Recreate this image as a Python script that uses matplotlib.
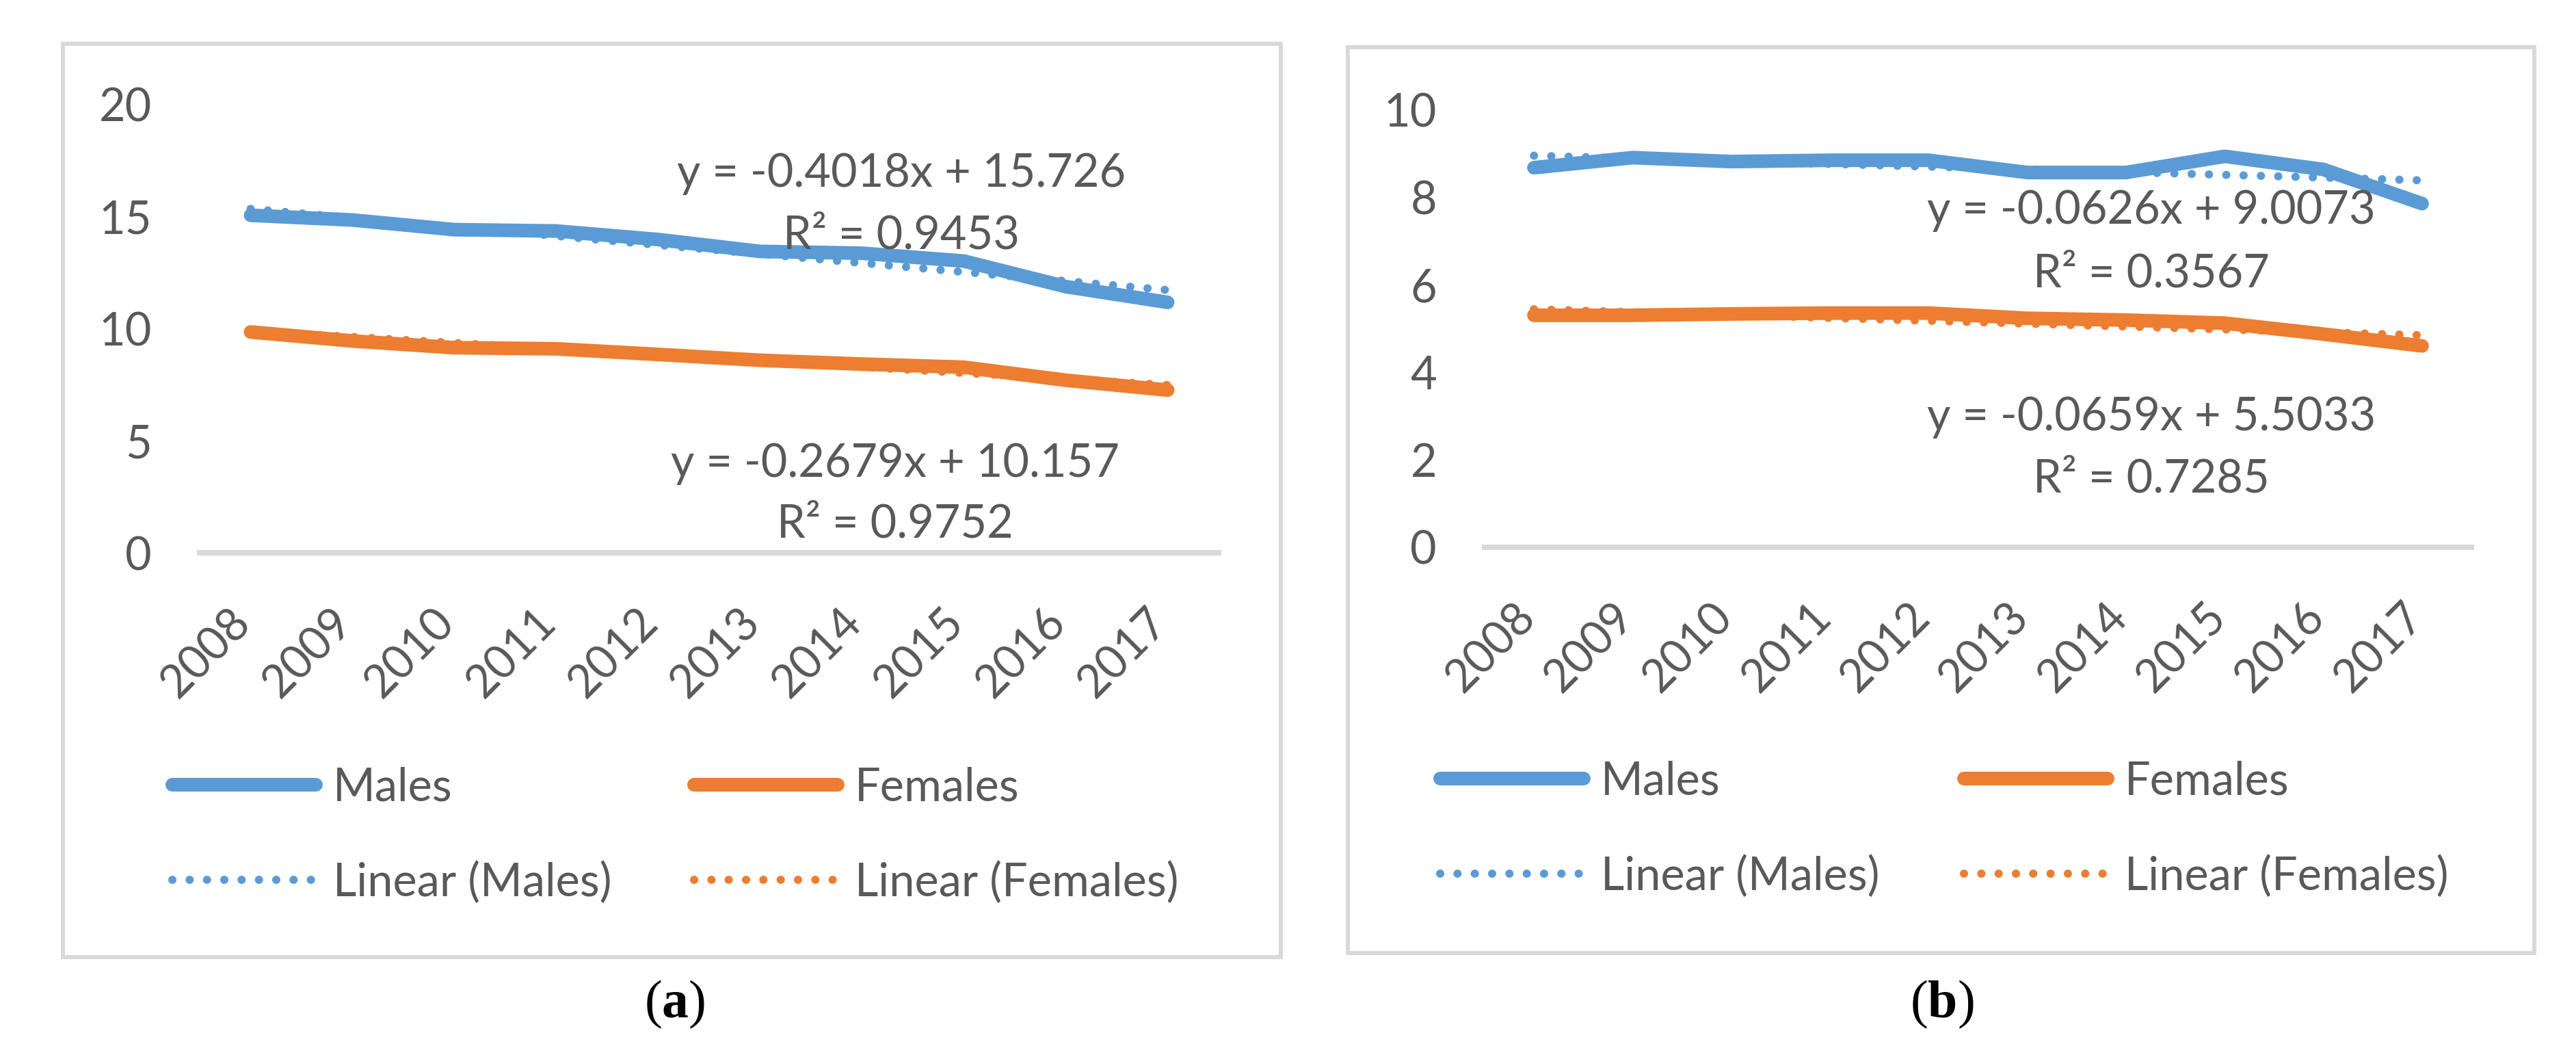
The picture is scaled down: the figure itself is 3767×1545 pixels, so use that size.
import numpy as np
import matplotlib
matplotlib.use("Agg")
import matplotlib.pyplot as plt
from matplotlib.patches import Rectangle
from matplotlib.transforms import ScaledTranslation

# ---------------- data ----------------
years = ['2008', '2009', '2010', '2011', '2012', '2013', '2014', '2015', '2016', '2017']

a_males = [15.04, 14.83, 14.40, 14.34, 13.96, 13.43, 13.35, 13.00, 11.86, 11.16]
a_females = [9.84, 9.44, 9.14, 9.09, 8.84, 8.58, 8.41, 8.27, 7.69, 7.25]
b_males = [8.67, 8.90, 8.81, 8.84, 8.84, 8.56, 8.56, 8.93, 8.63, 7.85]
b_females = [5.30, 5.30, 5.33, 5.35, 5.35, 5.23, 5.19, 5.12, 4.87, 4.60]

# trend line coefficients (slope, intercept) and R² as printed
a_males_fit = [-0.4018, 15.726]
a_females_fit = [-0.2679, 10.157]
b_males_fit = [-0.0626, 9.0073]
b_females_fit = [-0.0659, 5.5033]
a_r2 = ['0.9453', '0.9752']
b_r2 = ['0.3567', '0.7285']

a_yticks = [0, 5, 10, 15, 20]
b_yticks = [0, 2, 4, 6, 8, 10]

series_labels = ['Males', 'Females', 'Linear (Males)', 'Linear (Females)']
panel_labels = ['a', 'b']

# ---------------- style ----------------
W, H = 3767, 1545
DPI = 100
BLUE = '#5B9BD5'
ORANGE = '#ED7D31'
TXT = '#595959'
GRID = '#D9D9D9'
FONT = 'Lato'
FS = 48
PX = 72.0 / DPI  # points per pixel

plt.rcParams['font.family'] = [FONT, 'DejaVu Sans']
plt.rcParams['mathtext.fontset'] = 'custom'
plt.rcParams['mathtext.rm'] = 'Liberation Serif'
plt.rcParams['mathtext.bf'] = 'Liberation Serif:bold'

fig = plt.figure(figsize=(W / DPI, H / DPI), dpi=DPI)
fig.patch.set_facecolor('white')


def fx(px):
    return px / W


def fy(py):
    return 1 - py / H


def make_panel(ax_px, frame_px, males, females, mfit, ffit, r2, yticks,
               eq_pos, leg_pos, label_xoff):
    x0, x1, ytop, ybot = ax_px
    ax = fig.add_axes([fx(x0), fy(ybot), fx(x1) - fx(x0), fy(ytop) - fy(ybot)])
    x = np.arange(1, len(years) + 1)
    lm, = ax.plot(x, males, color=BLUE, lw=20 * PX, solid_capstyle='round',
                  solid_joinstyle='round', zorder=3)
    lf, = ax.plot(x, females, color=ORANGE, lw=20 * PX, solid_capstyle='round',
                  solid_joinstyle='round', zorder=3)
    dots = (0, (0.01, 2.1))
    tm, = ax.plot(x, mfit[0] * x + mfit[1], color=BLUE, lw=12 * PX,
                  linestyle=dots, dash_capstyle='round', zorder=2)
    tf, = ax.plot(x, ffit[0] * x + ffit[1], color=ORANGE, lw=12 * PX,
                  linestyle=dots, dash_capstyle='round', zorder=2)

    ax.set_xlim(0.5, len(years) + 0.5)
    ax.set_ylim(yticks[0], yticks[-1])
    ax.set_yticks(yticks)
    ax.set_yticklabels([str(t) for t in yticks])
    ax.set_xticks(x)
    ax.set_xticklabels(years, rotation=45, ha='right', va='top')
    for s in ['top', 'right', 'left']:
        ax.spines[s].set_visible(False)
    ax.spines['bottom'].set_color(GRID)
    ax.spines['bottom'].set_linewidth(8 * PX)
    ax.tick_params(axis='both', length=0, labelsize=FS, labelcolor=TXT)
    ax.tick_params(axis='y', pad=70 * PX)
    ax.tick_params(axis='x', pad=70 * PX)
    off = ScaledTranslation(label_xoff / DPI, 0, fig.dpi_scale_trans)
    for lab in ax.get_xticklabels():
        lab.set_transform(lab.get_transform() + off)
    ax.patch.set_alpha(0)

    # equations
    (mcx, mby, mrby), (fcx, fby, frby) = eq_pos
    eqm = 'y = %sx + %s' % (str(mfit[0]), str(mfit[1]))
    eqf = 'y = %sx + %s' % (str(ffit[0]), str(ffit[1]))
    for cx, by, s in [(mcx, mby, eqm), (mcx, mrby, 'R\u00b2 = ' + r2[0]),
                      (fcx, fby, eqf), (fcx, frby, 'R\u00b2 = ' + r2[1])]:
        fig.text(fx(cx), fy(by), s, ha='center', va='baseline', fontsize=FS,
                 color=TXT)

    # frame
    fl, ft, fr, fb = frame_px
    fig.add_artist(Rectangle((fx(fl), fy(fb)), fx(fr) - fx(fl), fy(ft) - fy(fb),
                             transform=fig.transFigure, fill=False,
                             edgecolor=GRID, linewidth=6 * PX, zorder=0))

    # legends (one per column)
    (c1x, c2x, ymid) = leg_pos
    for hx, handles, labs in [(c1x, [lm, tm], [series_labels[0], series_labels[2]]),
                              (c2x, [lf, tf], [series_labels[1], series_labels[3]])]:
        fig.legend(handles, labs, loc='center left',
                   bbox_to_anchor=(fx(hx), fy(ymid)), bbox_transform=fig.transFigure,
                   frameon=False, fontsize=FS, labelcolor=TXT, borderpad=0,
                   borderaxespad=0, handlelength=3.15, handletextpad=0.38,
                   labelspacing=1.15)
    return ax


make_panel((292, 1782, 152, 808), (92, 64, 1873, 1399),
           a_males, a_females, a_males_fit, a_females_fit, a_r2, a_yticks,
           ((1318, 273, 363), (1309, 697, 786)),
           (252, 1015, 1221), 12)

make_panel((2171, 3614, 160, 800), (1971, 69, 3706, 1393),
           b_males, b_females, b_males_fit, b_females_fit, b_r2, b_yticks,
           ((3146, 327, 419), (3146, 629, 720)),
           (2106, 2872, 1212), 14)

# panel captions
for cx, lab in [(987, panel_labels[0]), (2840, panel_labels[1])]:
    fig.text(fx(cx), fy(1468), '(' + r'$\mathbf{%s}$' % lab + ')', ha='center',
             va='center', fontsize=56, color='black', family='Liberation Serif')

fig.savefig('out.png', dpi=DPI, facecolor='white')
